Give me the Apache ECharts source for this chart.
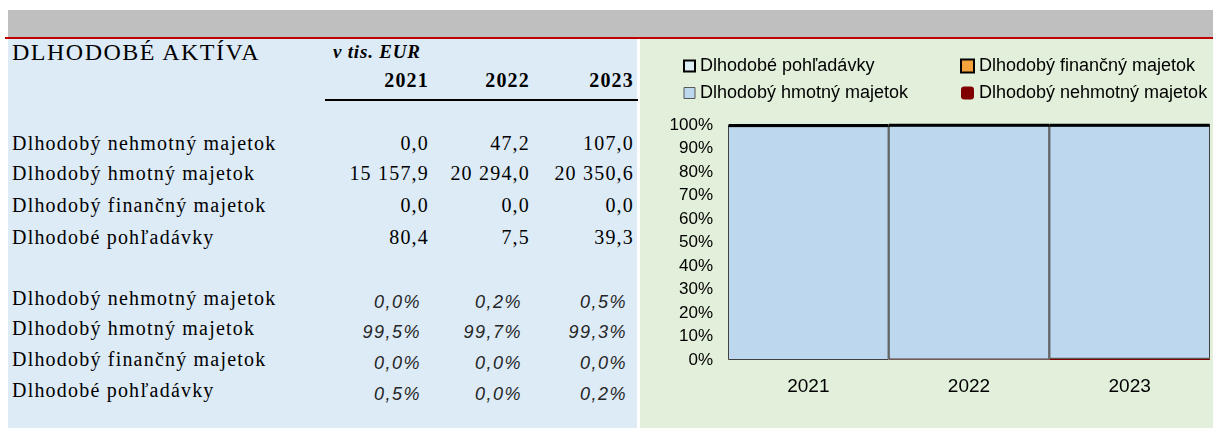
<!DOCTYPE html>
<html>
<head>
<meta charset="utf-8">
<script src="https://cdn.jsdelivr.net/npm/echarts@6/dist/echarts.min.js"></script>
<style>
  body{margin:0;width:1215px;height:430px;position:relative;background:#fff;overflow:hidden}
  .abs{position:absolute}
  .band{left:8px;top:10px;width:1205px;height:28px;background:#BFBFBF}
  .red{left:5px;top:37px;width:1208px;height:2px;background:#C00000}
  .left{left:8px;top:39px;width:629px;height:389px;background:#DDEBF7}
  #chart{left:640px;top:39px;width:573px;height:389px}
  .t{font-family:'Liberation Serif',serif;color:#000;white-space:nowrap;line-height:24px;height:24px}
  .lbl{font-size:20px;letter-spacing:1.2px}
  .num{font-size:20px;letter-spacing:1.2px;text-align:right}
  .head{font-weight:bold}
  .hline{left:325px;top:99px;width:313px;height:2px;background:#000}
</style>
</head>
<body>
<div class="abs band"></div>
<div class="abs red"></div>
<div class="abs left"></div>
<div class="abs hline"></div>
<div id="chart" class="abs"></div>
<script>
  // data
  var years = ['2021', '2022', '2023'];
  var rowNames = ['Dlhodobý nehmotný majetok', 'Dlhodobý hmotný majetok', 'Dlhodobý finančný majetok', 'Dlhodobé pohľadávky'];
  var nehmotny = [0.0, 47.2, 107.0];
  var hmotny = [15157.9, 20294.0, 20350.6];
  var financny = [0.0, 0.0, 0.0];
  var pohladavky = [80.4, 7.5, 39.3];
  var nehmotnyPct = [0.0, 0.2, 0.5];
  var hmotnyPct = [99.5, 99.7, 99.3];
  var financnyPct = [0.0, 0.0, 0.0];
  var pohladavkyPct = [0.5, 0.0, 0.2];

  var values = [nehmotny, hmotny, financny, pohladavky];
  var pcts = [nehmotnyPct, hmotnyPct, financnyPct, pohladavkyPct];

  function fmt(v) {
    return v.toFixed(1).replace('.', ',').replace(/\B(?=(\d{3})+(?!\d))/g, ' ');
  }

  function addText(cls, text, left, right, cy) {
    var d = document.createElement('div');
    d.className = 'abs t ' + cls;
    d.textContent = text;
    d.style.top = (cy - 12) + 'px';
    if (left != null) d.style.left = left + 'px';
    if (right != null) d.style.right = (1215 - right) + 'px';
    document.body.appendChild(d);
    return d;
  }

  // table header
  var title = document.createElement('div');
  title.className = 'abs t';
  title.textContent = 'DLHODOBÉ AKTÍVA';
  title.style.cssText = 'left:12px;top:38px;font-size:24px;letter-spacing:1.5px;line-height:28px;height:28px';
  document.body.appendChild(title);

  var unit = document.createElement('div');
  unit.className = 'abs t';
  unit.textContent = 'v tis. EUR';
  unit.style.cssText = 'left:333px;top:40px;font-size:19px;font-weight:bold;font-style:italic;letter-spacing:0.8px';
  document.body.appendChild(unit);

  var colRight = [429, 530, 634];
  var pctRight = [421, 522, 627];
  years.forEach(function (y, j) {
    addText('num head', y, null, colRight[j], 80);
  });

  var rowY = [143, 173, 205, 237];
  var pctY = [298, 328, 359, 390];
  var pctValY = [302, 332, 363, 394];
  rowNames.forEach(function (name, i) {
    addText('lbl', name, 12, null, rowY[i]);
    values[i].forEach(function (v, j) { addText('num', fmt(v), null, colRight[j], rowY[i]); });
    addText('lbl', name, 12, null, pctY[i]);
    pcts[i].forEach(function (v, j) {
      var el = addText('', fmt(v) + '%', null, pctRight[j], pctValY[i]);
      el.style.fontFamily = '"Liberation Sans", Arial, sans-serif';
      el.style.fontStyle = 'italic';
      el.style.fontSize = '18px';
      el.style.letterSpacing = '1.5px';
      el.style.color = '#262626';
      el.style.textAlign = 'right';
    });
  });
</script>
<script>
  var chart = echarts.init(document.getElementById('chart'));
  var legendText = {fontFamily: 'Liberation Sans', fontSize: 18, color: '#000', lineHeight: 20};
  var styles = [
    {color: '#800000', borderWidth: 0},
    {color: '#BDD7EE', borderColor: '#404040', borderWidth: 1},
    {color: '#F5A23C', borderColor: '#000', borderWidth: 1},
    {color: '#DAEEF3', borderColor: '#000', borderWidth: 3}
  ];
  var legendStyles = [
    {color: '#800000', borderWidth: 0},
    {color: '#BDD7EE', borderColor: '#595959', borderWidth: 1},
    {color: '#F5A23C', borderColor: '#000', borderWidth: 2},
    {color: '#DAEEF3', borderColor: '#000', borderWidth: 2}
  ];

  chart.setOption({
    backgroundColor: '#E2EFDA',
    animation: false,
    legend: [
      {
        orient: 'vertical', left: 38, top: 12, itemGap: 7, itemWidth: 11, itemHeight: 11,
        icon: 'rect', textStyle: legendText, selectedMode: false,
        data: [
          {name: rowNames[3], itemStyle: legendStyles[3]},
          {name: rowNames[1], itemStyle: legendStyles[1]}
        ]
      },
      {
        orient: 'vertical', left: 315, top: 12, itemGap: 7, itemWidth: 13, itemHeight: 13,
        icon: 'rect', textStyle: legendText, selectedMode: false,
        data: [
          {name: rowNames[2], itemStyle: legendStyles[2]},
          {name: rowNames[0], itemStyle: legendStyles[0], icon: 'roundRect'}
        ]
      }
    ],
    grid: {left: 88, right: 3, top: 86, bottom: 68},
    xAxis: {
      type: 'category',
      data: years,
      axisLine: {show: false},
      axisTick: {show: false},
      axisLabel: {fontFamily: 'Liberation Sans', fontSize: 19, color: '#000', margin: 17}
    },
    yAxis: {
      type: 'value',
      min: 0,
      max: 100,
      interval: 10,
      splitLine: {show: false},
      axisLine: {show: false},
      axisTick: {show: false},
      axisLabel: {formatter: '{value}%', fontFamily: 'Liberation Sans', fontSize: 17, color: '#000', margin: 15}
    },
    series: pcts.map(function (d, i) {
      return {
        name: rowNames[i],
        type: 'bar',
        stack: 'total',
        barCategoryGap: '0%',
        data: d,
        itemStyle: styles[i]
      };
    })
  });
</script>
</body>
</html>
